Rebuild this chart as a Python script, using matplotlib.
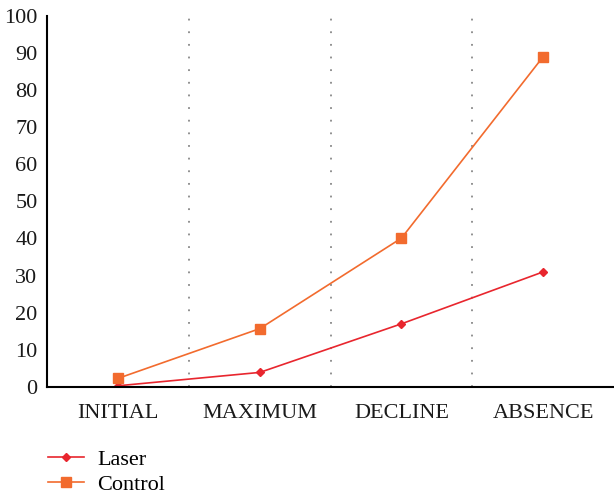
import matplotlib
matplotlib.use("Agg")
import matplotlib.pyplot as plt

# stages and measured values
stages = ["INITIAL", "MAXIMUM", "DECLINE", "ABSENCE"]
laser = [0.3, 3.9, 17, 31]
control = [2.3, 15.7, 40.1, 89]

plt.rcParams['font.family'] = ['Liberation Serif', 'DejaVu Serif']

fig = plt.figure(figsize=(6.14, 4.96), dpi=100)
ax = fig.add_axes([0.077, 0.22, 0.923, 0.748])

x = list(range(len(stages)))
ax.plot(x, laser, color='#e8262e', marker='D', markersize=4.5, linewidth=1.2, label='Laser')
ax.plot(x, control, color='#f26b2e', marker='s', markersize=7, linewidth=1.2, label='Control')

# dotted separators between the stages
for b in [0.5, 1.5, 2.5]:
    ax.axvline(b, color='#888888', linestyle=(0, (1, 6)), linewidth=1.3, zorder=0)

ax.set_xlim(-0.5, 3.5)
ax.set_ylim(0, 100)
ax.set_yticks(range(0, 101, 10))
ax.set_xticks(x)
ax.set_xticklabels(stages)
ax.tick_params(axis='both', length=0, labelsize=16, colors='#1a1a1a')
ax.tick_params(axis='x', pad=12)
ax.tick_params(axis='y', pad=7)

ax.spines['top'].set_visible(False)
ax.spines['right'].set_visible(False)
ax.spines['left'].set_linewidth(1.5)
ax.spines['bottom'].set_linewidth(1.5)

ax.legend(loc='upper left', bbox_to_anchor=(0.002, -0.168), frameon=False,
          fontsize=16, handlelength=1.6, labelspacing=0.22, handletextpad=0.6,
          borderaxespad=0, borderpad=0)

fig.savefig('out.png', dpi=100)
